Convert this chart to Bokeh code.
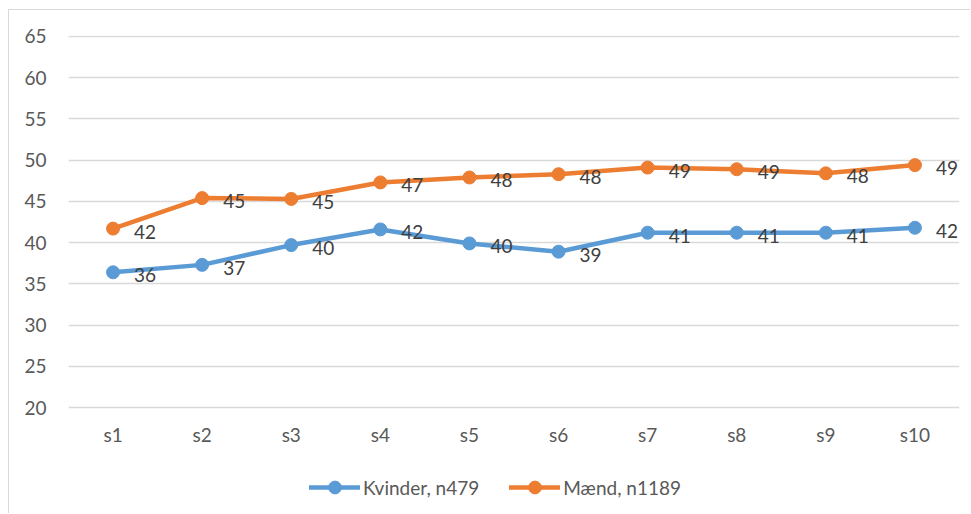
from bokeh.plotting import figure
from bokeh.models import (Range1d, FactorRange, Legend, LegendItem, FixedTicker,
                          ColumnDataSource, CategoricalAxis)
from bokeh.embed import file_html
from bokeh.resources import INLINE
from bokeh.core.properties import value

categories = ["s1", "s2", "s3", "s4", "s5", "s6", "s7", "s8", "s9", "s10"]
kvinder = [36.4, 37.3, 39.7, 41.6, 39.9, 38.9, 41.2, 41.2, 41.2, 41.8]
maend = [41.7, 45.4, 45.3, 47.3, 47.9, 48.3, 49.1, 48.9, 48.4, 49.4]
y_ticks = [20, 25, 30, 35, 40, 45, 50, 55, 60, 65]
series_names = ["Kvinder, n479", "Mænd, n1189"]
colors = ["#5B9BD5", "#ED7D31"]

FONT = "Lato"
TEXT_GREY = "#595959"
LABEL_GREY = "#404040"
GRID = "#D9D9D9"

# the frame extends below the 20-line so the legend can sit inside it
p = figure(
    x_range=FactorRange(*categories, range_padding=0),
    y_range=Range1d(7.143, 65.121),
    x_axis_location=None,
    width=961, height=503,
    frame_width=891, frame_height=478,
    min_border_left=59, min_border_right=11, min_border_top=25, min_border_bottom=0,
    output_backend="svg", toolbar_location=None,
    background_fill_color="white", border_fill_color="white",
    styles={"margin-left": "8px", "margin-top": "9px",
            "border-left": "1px solid #D9D9D9", "border-top": "1px solid #D9D9D9"},
)
p.outline_line_color = None

p.yaxis.ticker = FixedTicker(ticks=y_ticks)
p.yaxis.axis_line_color = None
p.yaxis.major_tick_line_color = None
p.yaxis.minor_tick_line_color = None
p.yaxis.major_tick_out = 0
p.yaxis.major_tick_in = 0
p.yaxis.major_label_standoff = 22
p.yaxis.major_label_text_font = FONT
p.yaxis.major_label_text_font_size = "19px"
p.yaxis.major_label_text_color = TEXT_GREY

# category axis, drawn just under the 20-line
xaxis = CategoricalAxis(fixed_location=15.39, axis_line_color=None,
                        major_tick_line_color=None, minor_tick_line_color=None,
                        major_tick_out=0, major_tick_in=0, major_label_standoff=0,
                        major_label_text_font=FONT, major_label_text_font_size="19px",
                        major_label_text_color=TEXT_GREY)
p.add_layout(xaxis, "above")

p.xgrid.grid_line_color = None
p.ygrid.grid_line_color = GRID
p.ygrid.grid_line_width = 1.5

items = []
for name, vals, col in zip(series_names, [kvinder, maend], colors):
    src = ColumnDataSource(dict(x=categories, y=vals, lbl=[str(round(v)) for v in vals]))
    ln = p.line("x", "y", source=src, line_color=col, line_width=4.5, line_join="round", line_cap="round")
    sc = p.scatter("x", "y", source=src, size=13, fill_color=col, line_color=col, marker="circle")
    p.text("x", "y", text="lbl", source=src, x_offset=21, y_offset=3,
           text_baseline="middle", text_align="left",
           text_font=value(FONT), text_font_size="19px", text_color=LABEL_GREY)
    items.append(LegendItem(label=name, renderers=[ln, sc]))

legend = Legend(items=items, orientation="horizontal", location=(241, 10),
                padding=0, margin=0, spacing=30, glyph_width=51, glyph_height=32,
                label_standoff=3, label_text_font=FONT, label_text_font_size="19px",
                label_text_color=TEXT_GREY, border_line_color=None,
                background_fill_alpha=0)
p.add_layout(legend, "center")

with open("out.html", "w") as f:
    f.write(file_html(p, INLINE))
